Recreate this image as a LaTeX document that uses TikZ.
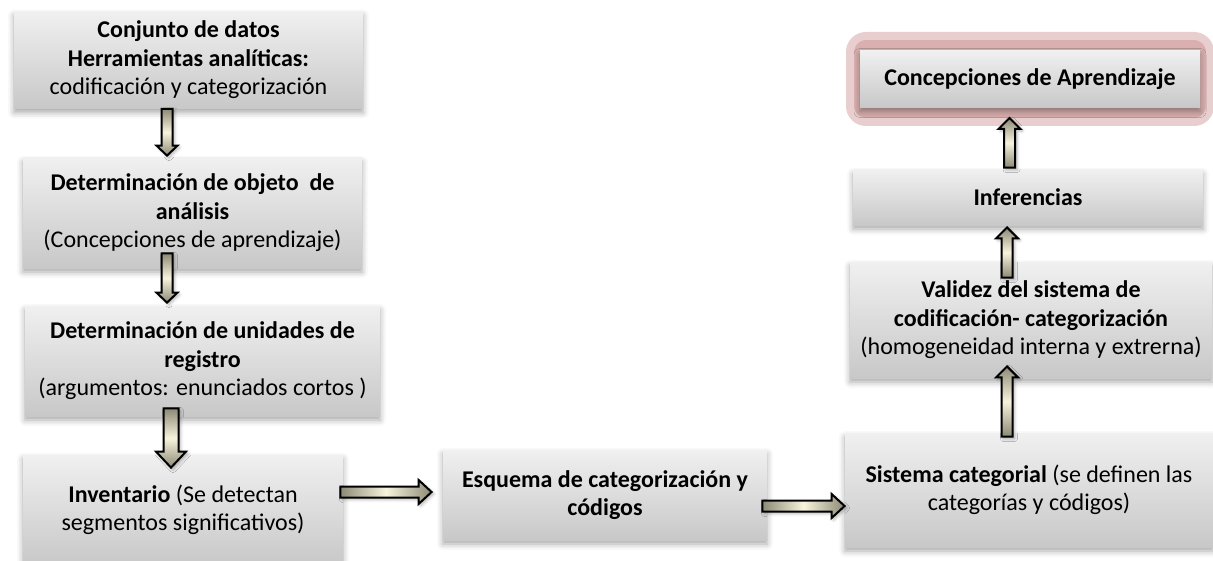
\documentclass[tikz,border=0pt]{standalone}
\usepackage{fontspec}
\setmainfont{Carlito}
\usetikzlibrary{calc,shadows.blur}

\definecolor{grisclaro}{RGB}{240,240,240}
\definecolor{grisoscuro}{RGB}{200,200,200}
\definecolor{flechaosc}{RGB}{140,137,118}
\definecolor{flechaclr}{RGB}{247,243,220}
\definecolor{rosa}{RGB}{214,166,166}

% block arrow: [shading]{base}{tip}{half shaft}{half head}{head length}
\newcommand{\flecha}[6][]{%
  \draw[flecha,#1] ($(#2)!#4!90:(#3)$) -- ($(#3)!#6!(#2)!#4!-90:(#2)$)
    -- ($(#3)!#6!(#2)!#5!-90:(#2)$) -- (#3) -- ($(#3)!#6!(#2)!#5!90:(#2)$)
    -- ($(#3)!#6!(#2)!#4!90:(#2)$) -- ($(#2)!#4!-90:(#3)$) -- cycle;}

\tikzset{
  caja/.style={rectangle, inner sep=0pt, align=center,
    top color=grisclaro, bottom color=grisoscuro,
    font=\fontsize{12}{14.2}\selectfont,
    blur shadow={shadow xshift=0pt, shadow yshift=-2pt, shadow blur radius=3pt, shadow opacity=35}},
  brillo/.style={rectangle, rounded corners=8pt, fill=rosa!90, draw=rosa!55, line width=4pt},
  flecha/.style={draw=black, line width=1pt, line join=miter,
    blur shadow={shadow xshift=1pt, shadow yshift=-1pt, shadow blur radius=1.5pt, shadow opacity=30}},
  vert/.style={top color=flechaosc, bottom color=flechaosc, middle color=flechaclr},
  horiz/.style={left color=flechaosc, right color=flechaosc, middle color=flechaclr},
}

\begin{document}
\begin{tikzpicture}[x=0.5pt, y=-0.5pt]
  \useasboundingbox (0,0) rectangle (1213,561);

  % left column
  \node[caja, minimum width=174.5pt, minimum height=48.5pt] (datos) at (188.5,60)
    {\textbf{Conjunto de datos}\\ \textbf{Herramientas analíticas:}\\ codificación y categorización};
  \node[caja, minimum width=169.5pt, minimum height=55pt] (objeto) at (192.5,213)
    {\textbf{Determinación de objeto~ de}\\ \textbf{análisis}\\ (Concepciones de aprendizaje)};
  \node[caja, minimum width=177.5pt, minimum height=55pt] (unidades) at (202.5,361)
    {\textbf{Determinación de unidades de}\\ \textbf{registro}\\ (argumentos: enunciados cortos )};
  \node[caja, minimum width=160pt, minimum height=55pt] (inventario) at (183,510)
    {\textbf{Inventario} (Se detectan\\ segmentos significativos)};

  % bottom middle
  \node[caja, minimum width=162pt, minimum height=45pt] (esquema) at (605,495)
    {\textbf{Esquema de categorización y}\\ \textbf{códigos}};

  % right column
  \node[caja, minimum width=184pt, minimum height=57pt] (sistema) at (1029,490)
    {\textbf{Sistema categorial} (se definen las\\ categorías y códigos)};
  \node[caja, minimum width=181pt, minimum height=58pt] (validez) at (1031,320)
    {\textbf{Validez del sistema de}\\ \textbf{codificación- categorización}\\ (homogeneidad interna y extrerna)};
  \node[caja, minimum width=175pt, minimum height=27.5pt] (inferencias) at (1028,197.5)
    {\textbf{Inferencias}};
  \node[brillo, minimum width=180pt, minimum height=43pt] (marco) at (1030,79) {};
  \node[caja, minimum width=170pt, minimum height=28.5pt] (concepciones) at (marco)
    {\textbf{Concepciones de Aprendizaje}};

  % arrows
  \coordinate (a1i) at ($(datos.south)+(-21.5,0)$);
  \coordinate (a1f) at ($(objeto.north)+(-25.5,-2)$);
  \coordinate (a2i) at ($(objeto.south)+(-25.5,-15)$);
  \coordinate (a2f) at ($(unidades.north)+(-35.5,-3)$);
  \coordinate (a3i) at ($(unidades.south)+(-31.5,-8)$);
  \coordinate (a3f) at ($(inventario.north)+(-12,13)$);
  \coordinate (h1i) at ($(inventario.east)+(-3,-18)$);
  \coordinate (h1f) at ($(esquema.west)+(-11,-3)$);
  \coordinate (h2i) at ($(esquema.east)+(-5,11)$);
  \coordinate (h2f) at ($(sistema.west)+(0,16)$);
  \coordinate (u1i) at ($(inferencias.north)+(-18.5,-2)$);
  \coordinate (u1f) at ($(marco.south)+(-20.5,-8)$);
  \coordinate (u2i) at ($(validez.north)+(-24,16)$);
  \coordinate (u2f) at ($(inferencias.south)+(-21,2)$);
  \coordinate (u3i) at ($(sistema.north)+(-22,4)$);
  \coordinate (u3f) at ($(validez.south)+(-24,-12)$);

  \flecha[vert]{a1i}{a1f}{2.75pt}{5.25pt}{5pt}
  \flecha[vert]{a2i}{a2f}{2.75pt}{5.25pt}{5pt}
  \flecha[vert]{a3i}{a3f}{3.75pt}{7.5pt}{8pt}
  \flecha[horiz]{h1i}{h1f}{2.75pt}{6pt}{6.5pt}
  \flecha[horiz]{h2i}{h2f}{2.75pt}{6pt}{6.5pt}
  \flecha[vert]{u1i}{u1f}{2.75pt}{5.5pt}{5.5pt}
  \flecha[vert]{u2i}{u2f}{2.75pt}{5.5pt}{5.5pt}
  \flecha[vert]{u3i}{u3f}{2.75pt}{5.5pt}{5.5pt}
\end{tikzpicture}
\end{document}
